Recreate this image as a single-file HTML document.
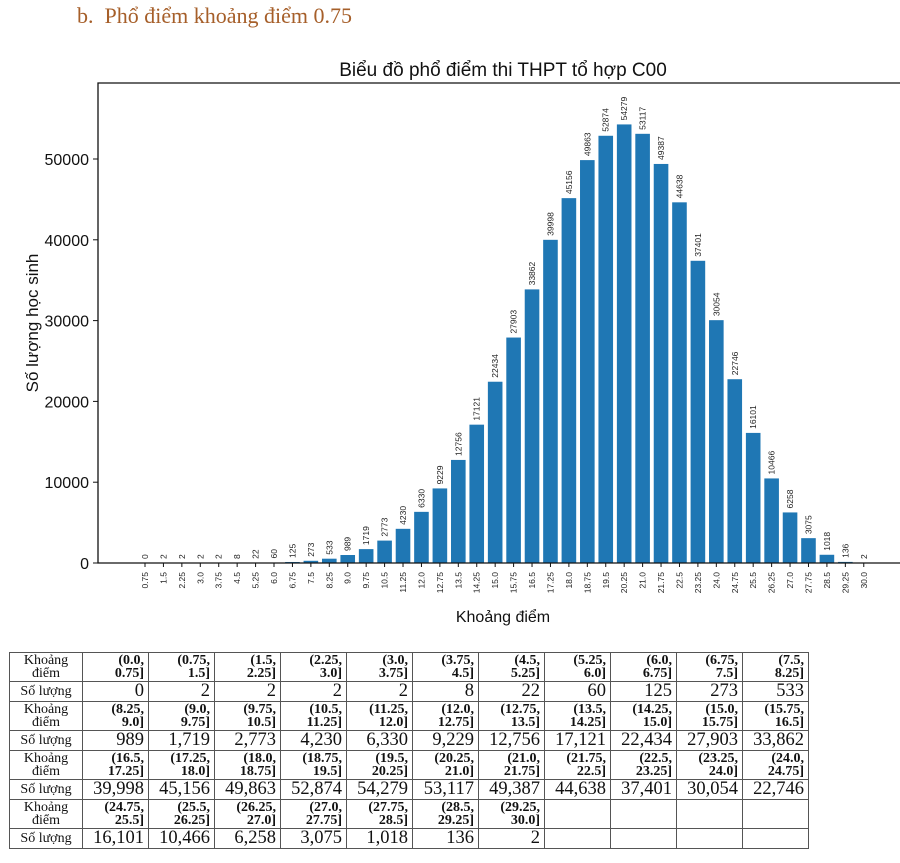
<!DOCTYPE html>
<html><head><meta charset="utf-8">
<style>
body{margin:0;width:900px;height:863px;background:#fff;position:relative;overflow:hidden;font-family:"Liberation Sans","DejaVu Sans",sans-serif}
#heading{position:absolute;left:77px;top:3px;font-family:"Liberation Serif",serif;font-size:22px;color:#a65f2a;white-space:nowrap}
#chart{position:absolute;left:0;top:0}
table{position:absolute;left:9px;top:652px;border-collapse:collapse;font-family:"Liberation Serif",serif;table-layout:fixed}
td{border:1.5px solid #555;padding:0 4px;color:#111;box-sizing:border-box;overflow:hidden}
td.lab{font-size:14px;text-align:center;line-height:13px;width:73px}
td.hd{font-weight:bold;font-size:14px;text-align:right;line-height:13.5px;width:66px}
td.val{font-size:18.5px;text-align:right;line-height:17px}
tr.h td{height:29px} tr.v td{height:20px}
</style></head><body>
<div id="heading">b.&nbsp;&nbsp;Phổ điểm khoảng điểm 0.75</div>
<svg id="chart" width="900" height="640"></svg>
<table id="tbl"></table>
<script>
const categories=["0.75","1.5","2.25","3.0","3.75","4.5","5.25","6.0","6.75","7.5","8.25","9.0","9.75","10.5","11.25","12.0","12.75","13.5","14.25","15.0","15.75","16.5","17.25","18.0","18.75","19.5","20.25","21.0","21.75","22.5","23.25","24.0","24.75","25.5","26.25","27.0","27.75","28.5","29.25","30.0"];
const counts=[0,2,2,2,2,8,22,60,125,273,533,989,1719,2773,4230,6330,9229,12756,17121,22434,27903,33862,39998,45156,49863,52874,54279,53117,49387,44638,37401,30054,22746,16101,10466,6258,3075,1018,136,2];
const yTicks=[0,10000,20000,30000,40000,50000];
const intervals=["(0.0,|0.75]","(0.75,|1.5]","(1.5,|2.25]","(2.25,|3.0]","(3.0,|3.75]","(3.75,|4.5]","(4.5,|5.25]","(5.25,|6.0]","(6.0,|6.75]","(6.75,|7.5]","(7.5,|8.25]","(8.25,|9.0]","(9.0,|9.75]","(9.75,|10.5]","(10.5,|11.25]","(11.25,|12.0]","(12.0,|12.75]","(12.75,|13.5]","(13.5,|14.25]","(14.25,|15.0]","(15.0,|15.75]","(15.75,|16.5]","(16.5,|17.25]","(17.25,|18.0]","(18.0,|18.75]","(18.75,|19.5]","(19.5,|20.25]","(20.25,|21.0]","(21.0,|21.75]","(21.75,|22.5]","(22.5,|23.25]","(23.25,|24.0]","(24.0,|24.75]","(24.75,|25.5]","(25.5,|26.25]","(26.25,|27.0]","(27.0,|27.75]","(27.75,|28.5]","(28.5,|29.25]","(29.25,|30.0]"];

const NS="http://www.w3.org/2000/svg";
const svg=document.getElementById('chart');
const X0=145, STEP=18.43, BW=14.6, Y0=563, PER=404/50000;
const xS=i=>X0+i*STEP;
const yS=v=>Y0-v*PER;
function mk(tag,attrs,txt){const e=document.createElementNS(NS,tag);for(const k in attrs)e.setAttribute(k,attrs[k]);if(txt!==undefined)e.textContent=txt;svg.appendChild(e);return e;}

let t=mk('text',{x:503,y:76,'text-anchor':'middle','font-size':19,fill:'#111'},'Biểu đồ phổ điểm thi THPT tổ hợp C00');



categories.forEach((c,i)=>{
  const v=counts[i];
  const r=mk('rect',{x:xS(i)-BW/2,y:yS(v),width:BW,height:Y0-yS(v),fill:'#1f77b4'});
  
  
  const lx=xS(i)+3, ly=yS(v)-4;
  const l=mk('text',{x:lx,y:ly,'font-size':8.5,fill:'#222',transform:`rotate(-90 ${lx} ${ly})`},String(v));
  
  
  const tk=mk('line',{x1:xS(i),x2:xS(i),y1:Y0,y2:Y0+4,stroke:'#111','stroke-width':1});
  
  
  const tx=xS(i)+3, ty=Y0+9;
  const tl=mk('text',{x:tx,y:ty,'font-size':8.5,fill:'#222','text-anchor':'end',transform:`rotate(-90 ${tx} ${ty})`},c);
  
  
});

yTicks.forEach(v=>{
  const tk=mk('line',{x1:93,x2:98,y1:yS(v),y2:yS(v),stroke:'#111','stroke-width':1});
  
  
  const tl=mk('text',{x:89,y:yS(v)+6,'font-size':16,'text-anchor':'end',fill:'#111'},String(v));
  
  
});

const ax=mk('path',{d:'M900 83 H98 V563 H900',fill:'none',stroke:'#111','stroke-width':1.3});



const xl=mk('text',{x:503,y:622,'font-size':16,'text-anchor':'middle',fill:'#111'},'Khoảng điểm');


const yl=mk('text',{x:38,y:323,'font-size':17,'text-anchor':'middle',fill:'#111',transform:'rotate(-90 38 323)'},'Số lượng học sinh');



const tbl=document.getElementById('tbl');
for(let r=0;r<4;r++){
  const trh=document.createElement('tr');trh.className='h';
  
  
  const trv=document.createElement('tr');trv.className='v';
  
  
  let a=document.createElement('td');a.className='lab';a.innerHTML='Khoảng<br>điểm';trh.appendChild(a);
  let b=document.createElement('td');b.className='lab';b.textContent='Số lượng';trv.appendChild(b);
  for(let c=0;c<11;c++){
    const i=r*11+c;
    const h=document.createElement('td');h.className='hd';
    
    
    const v=document.createElement('td');v.className='val';
    
    
    if(i<intervals.length){h.innerHTML=intervals[i].replace('|','<br>');v.textContent=counts[i].toLocaleString('en-US');}
    trh.appendChild(h);trv.appendChild(v);
  }
  tbl.appendChild(trh);tbl.appendChild(trv);
}
</script>
</body></html>
